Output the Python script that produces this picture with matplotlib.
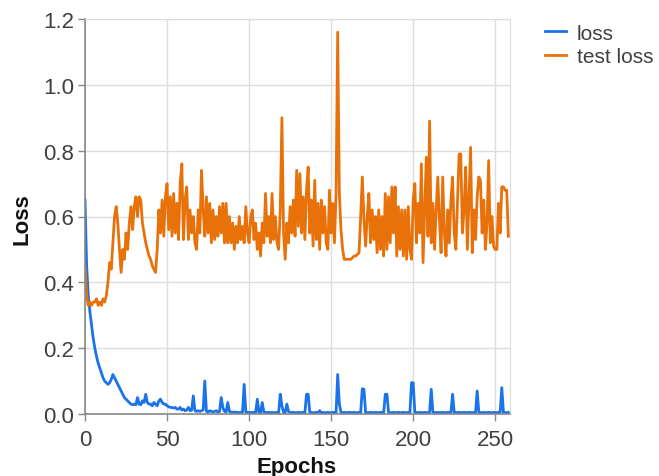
import numpy as np
import matplotlib
matplotlib.use('Agg')
import matplotlib.pyplot as plt

plt.rcParams.update({
    "font.family": ["Liberation Sans", "DejaVu Sans"],
})

# training loss per epoch
loss = [
    0.65, 0.45, 0.36, 0.31, 0.27, 0.23, 0.20, 0.175, 0.155, 0.14,
    0.125, 0.11, 0.10, 0.095, 0.09, 0.095, 0.105, 0.12, 0.11, 0.10,
    0.09, 0.08, 0.07, 0.06, 0.05, 0.045, 0.04, 0.035, 0.03, 0.028,
    0.03, 0.028, 0.05, 0.03, 0.028, 0.04, 0.035, 0.06, 0.035, 0.03,
    0.03, 0.025, 0.035, 0.03, 0.025, 0.04, 0.045, 0.035, 0.03, 0.03,
    0.025, 0.022, 0.02, 0.02, 0.018, 0.02, 0.015, 0.015, 0.02, 0.012,
    0.015, 0.01, 0.012, 0.02, 0.01, 0.012, 0.055, 0.01, 0.008, 0.01,
    0.008, 0.01, 0.012, 0.10, 0.008, 0.006, 0.01, 0.008, 0.006, 0.008,
    0.01, 0.006, 0.008, 0.05, 0.02, 0.008, 0.006, 0.035, 0.008, 0.006,
    0.005, 0.006, 0.005, 0.005, 0.004, 0.005, 0.006, 0.09, 0.006, 0.005,
    0.005, 0.004, 0.005, 0.005, 0.004, 0.045, 0.005, 0.004, 0.035, 0.006,
    0.005, 0.004, 0.005, 0.004, 0.005, 0.004, 0.004, 0.005, 0.004, 0.06,
    0.025, 0.005, 0.004, 0.03, 0.008, 0.005, 0.004, 0.005, 0.004, 0.004,
    0.005, 0.004, 0.004, 0.005, 0.004, 0.06, 0.06, 0.005, 0.004, 0.004,
    0.004, 0.005, 0.004, 0.01, 0.004, 0.005, 0.004, 0.004, 0.005, 0.004,
    0.004, 0.005, 0.004, 0.004, 0.12, 0.03, 0.005, 0.004, 0.005, 0.004,
    0.004, 0.005, 0.004, 0.004, 0.005, 0.004, 0.004, 0.005, 0.004, 0.077,
    0.075, 0.005, 0.004, 0.004, 0.005, 0.004, 0.004, 0.005, 0.004, 0.004,
    0.005, 0.004, 0.004, 0.06, 0.06, 0.005, 0.004, 0.004, 0.005, 0.004,
    0.004, 0.005, 0.004, 0.004, 0.005, 0.004, 0.004, 0.005, 0.004, 0.095,
    0.095, 0.005, 0.004, 0.004, 0.005, 0.004, 0.004, 0.005, 0.004, 0.004,
    0.005, 0.075, 0.005, 0.004, 0.004, 0.005, 0.004, 0.004, 0.005, 0.004,
    0.004, 0.005, 0.004, 0.004, 0.06, 0.005, 0.004, 0.004, 0.005, 0.004,
    0.004, 0.005, 0.004, 0.004, 0.005, 0.004, 0.004, 0.005, 0.004, 0.07,
    0.005, 0.004, 0.004, 0.005, 0.004, 0.004, 0.005, 0.004, 0.004, 0.005,
    0.004, 0.004, 0.005, 0.004, 0.08, 0.005, 0.004, 0.004, 0.005,
]

# validation loss per epoch
test_loss = [
    0.45, 0.36, 0.33, 0.34, 0.33, 0.34, 0.34, 0.35, 0.33, 0.34,
    0.33, 0.35, 0.34, 0.36, 0.40, 0.46, 0.44, 0.52, 0.60, 0.63,
    0.58, 0.50, 0.43, 0.50, 0.47, 0.55, 0.50, 0.58, 0.63, 0.56,
    0.63, 0.66, 0.60, 0.66, 0.65, 0.58, 0.55, 0.52, 0.50, 0.48,
    0.47, 0.45, 0.44, 0.43, 0.50, 0.62, 0.55, 0.65, 0.54, 0.66,
    0.70, 0.56, 0.66, 0.54, 0.67, 0.55, 0.64, 0.53, 0.70, 0.76,
    0.53, 0.65, 0.69, 0.53, 0.62, 0.55, 0.60, 0.52, 0.50, 0.62,
    0.55, 0.74, 0.62, 0.54, 0.66, 0.55, 0.64, 0.52, 0.62, 0.53,
    0.60, 0.54, 0.63, 0.55, 0.64, 0.52, 0.64, 0.52, 0.60, 0.52,
    0.58, 0.50, 0.57, 0.52, 0.60, 0.53, 0.57, 0.52, 0.63, 0.55,
    0.52, 0.60, 0.62, 0.53, 0.58, 0.50, 0.55, 0.48, 0.58, 0.52,
    0.67, 0.54, 0.60, 0.52, 0.67, 0.53, 0.60, 0.52, 0.50, 0.62,
    0.90, 0.55, 0.47, 0.58, 0.52, 0.63, 0.55, 0.65, 0.54, 0.74,
    0.57, 0.73, 0.55, 0.66, 0.53, 0.68, 0.75, 0.55, 0.65, 0.51,
    0.71, 0.53, 0.64, 0.50, 0.65, 0.55, 0.63, 0.52, 0.50, 0.68,
    0.55, 0.64, 0.52, 0.67, 1.16, 0.67, 0.56, 0.50, 0.47, 0.47,
    0.47, 0.47, 0.47, 0.475, 0.48, 0.48, 0.485, 0.49, 0.60, 0.72,
    0.59, 0.51, 0.60, 0.67, 0.52, 0.62, 0.53, 0.60, 0.49, 0.62,
    0.50, 0.60, 0.48, 0.67, 0.50, 0.66, 0.52, 0.69, 0.55, 0.69,
    0.48, 0.63, 0.50, 0.62, 0.48, 0.62, 0.47, 0.63, 0.50, 0.47,
    0.65, 0.70, 0.52, 0.64, 0.55, 0.76, 0.46, 0.62, 0.78, 0.54,
    0.89, 0.52, 0.64, 0.50, 0.62, 0.72, 0.59, 0.49, 0.72, 0.55,
    0.48, 0.62, 0.52, 0.65, 0.72, 0.55, 0.50, 0.65, 0.79, 0.79,
    0.55, 0.62, 0.75, 0.50, 0.65, 0.81, 0.49, 0.62, 0.53, 0.66,
    0.72, 0.71, 0.55, 0.65, 0.50, 0.58, 0.77, 0.52, 0.60, 0.51,
    0.50, 0.50, 0.64, 0.55, 0.69, 0.69, 0.68, 0.68, 0.54,
]

epochs = np.arange(len(loss))

xticks = [0, 50, 100, 150, 200, 250]
yticks = [0.0, 0.2, 0.4, 0.6, 0.8, 1.0, 1.2]

fig = plt.figure(figsize=(6.59, 4.77), dpi=100)
ax = fig.add_axes([85/659, 1-415/477, 425/659, 395/477])

ax.plot(epochs, loss, color='#1a73e8', linewidth=2.0, label='loss')
ax.plot(epochs, test_loss, color='#e8710a', linewidth=2.0, label='test loss')

ax.set_xlim(0, 259)
ax.set_ylim(0, 1.2)
ax.set_xticks(xticks)
ax.set_yticks(yticks)
ax.set_yticklabels(['%.1f' % v for v in yticks])
ax.grid(True, color='#dddddd', linewidth=1)
ax.set_axisbelow(True)

for s in ['top', 'right']:
    ax.spines[s].set_color('#dddddd')
for s in ['left', 'bottom']:
    ax.spines[s].set_color('#888888')
    ax.spines[s].set_linewidth(1.2)
ax.tick_params(direction='out', length=5, width=1, color='#888888',
               labelcolor='#404040', labelsize=16)
ax.tick_params(axis='x', pad=6)
ax.tick_params(axis='y', pad=3)

fig.text(22/659, 1-219/477, 'Loss', rotation=90, ha='center', va='center',
         fontsize=16, fontweight='bold', color='#111111')
fig.text(297/659, 1-473/477, 'Epochs', ha='center', va='baseline',
         fontsize=16, fontweight='bold', color='#111111')

fig.legend(loc='upper left', bbox_to_anchor=(526/659, 1-6/477), frameon=False,
           fontsize=15, handlelength=1.0, handletextpad=0.55, labelspacing=0.2,
           labelcolor='#404040')

plt.savefig('out.png', dpi=100)
